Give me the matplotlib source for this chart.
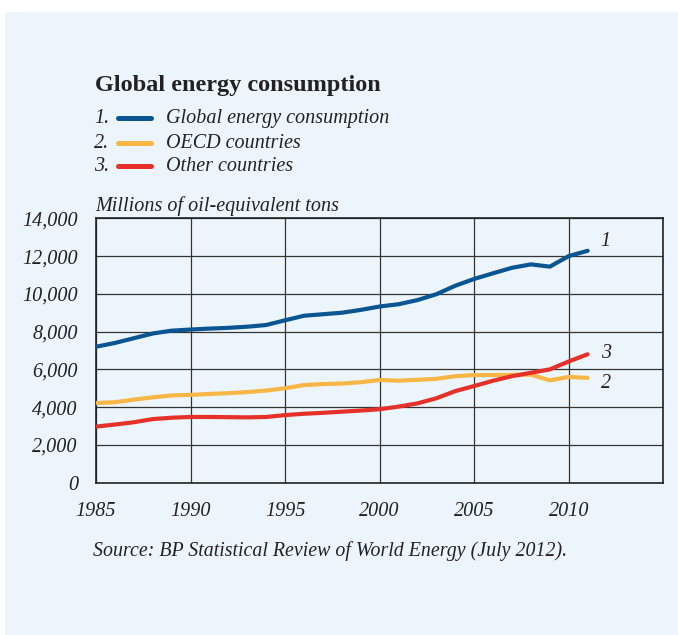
import matplotlib
matplotlib.use("Agg")
import matplotlib.pyplot as plt
from matplotlib.patches import Rectangle
from matplotlib.lines import Line2D
from matplotlib.ticker import FuncFormatter, MultipleLocator

plt.rcParams['font.family'] = ['Liberation Serif', 'DejaVu Serif']

# data, millions of oil-equivalent tons
years = list(range(1985, 2012))
global_total = [7200, 7400, 7650, 7900, 8050, 8110, 8160, 8200, 8260, 8350,
                8600, 8840, 8920, 9000, 9150, 9330, 9450, 9670, 9980, 10430,
                10790, 11090, 11380, 11560, 11440, 12000, 12280]
oecd = [4220, 4260, 4400, 4520, 4620, 4650, 4700, 4740, 4800, 4880,
        5000, 5170, 5220, 5250, 5320, 5440, 5400, 5450, 5500, 5640,
        5700, 5700, 5710, 5720, 5420, 5600, 5550]
other = [2970, 3080, 3200, 3370, 3440, 3480, 3480, 3470, 3460, 3480,
         3580, 3650, 3700, 3760, 3820, 3890, 4030, 4200, 4470, 4850,
         5120, 5400, 5640, 5820, 6000, 6420, 6800]

series_names = ["Global energy consumption", "OECD countries", "Other countries"]
series_tags = ["1", "2", "3"]
colors = ["#0B5592", "#F7B645", "#E5312A"]

panel = "#EDF5FC"
ink = "#222222"

W, H = 678, 635
fig = plt.figure(figsize=(W / 100, H / 100), dpi=100, facecolor="white")


def px(x, y):
    return x / W, 1 - y / H


# light blue panel behind everything
fig.patches.append(Rectangle(px(5, H), (W - 5) / W, (H - 12) / H,
                             transform=fig.transFigure, facecolor=panel,
                             edgecolor="none", zorder=-5))

ax = fig.add_axes([96 / W, 1 - 482.7 / H, (663.3 - 96) / W, (482.7 - 218.3) / H])
ax.set_zorder(1)
ax.set_facecolor(panel)

for vals, c in zip([global_total, oecd, other], colors):
    ax.plot(years, vals, color=c, lw=3.0, solid_capstyle="round", zorder=3)

# end labels
offsets = [(13, 9), (13, -6), (13, 1)]
for vals, tag, off in zip([global_total, oecd, other], series_tags, offsets):
    ax.annotate(tag, xy=(years[-1], vals[-1]), xytext=off,
                textcoords="offset pixels", ha="left", va="center",
                fontsize=14.5, style="italic", color=ink)

ax.set_xlim(1985, 2015)
ax.set_ylim(0, 14000)
ax.yaxis.set_major_locator(MultipleLocator(2000))
ax.yaxis.set_major_formatter(FuncFormatter(lambda v, p: f"{v:,.0f}"))
xt = [1985, 1990, 1995, 2000, 2005, 2010]
ax.set_xticks(xt + [2015])
ax.set_xticklabels([str(y) for y in xt] + [""])
ax.grid(True, color="#333333", lw=0.9)
ax.set_axisbelow(True)
ax.tick_params(length=0, labelsize=14.5, colors=ink)
ax.tick_params(axis="x", pad=14)
ax.tick_params(axis="y", pad=13)
for lab in ax.get_xticklabels() + ax.get_yticklabels():
    lab.set_fontstyle("italic")
for s in ax.spines.values():
    s.set_color("#222222")
    s.set_linewidth(1.2)

# title and legend
fig.text(*px(95, 91.5), "Global energy consumption", fontsize=17.5,
         fontweight="bold", color=ink, va="baseline")
rows = [118.3, 142.7, 166.5]
for i, (name, c, y) in enumerate(zip(series_names, colors, rows)):
    fig.text(*px(94, y + 5), f"{i + 1}.", fontsize=14.5, style="italic",
             color=ink, va="baseline")
    x0, y0 = px(118, y)
    x1, _ = px(150.5, y)
    fig.add_artist(Line2D([x0, x1], [y0, y0], transform=fig.transFigure,
                          color=c, lw=3.6, solid_capstyle="round"))
    fig.text(*px(166, y + 5), name, fontsize=14.5, style="italic",
             color=ink, va="baseline")

fig.text(*px(95, 211.5), "Millions of oil-equivalent tons", fontsize=14.5,
         style="italic", color=ink, va="baseline")
fig.text(*px(93, 556), "Source: BP Statistical Review of World Energy (July 2012).",
         fontsize=14.3, style="italic", color=ink, va="baseline")

fig.savefig("out.png", dpi=100, facecolor="white")
